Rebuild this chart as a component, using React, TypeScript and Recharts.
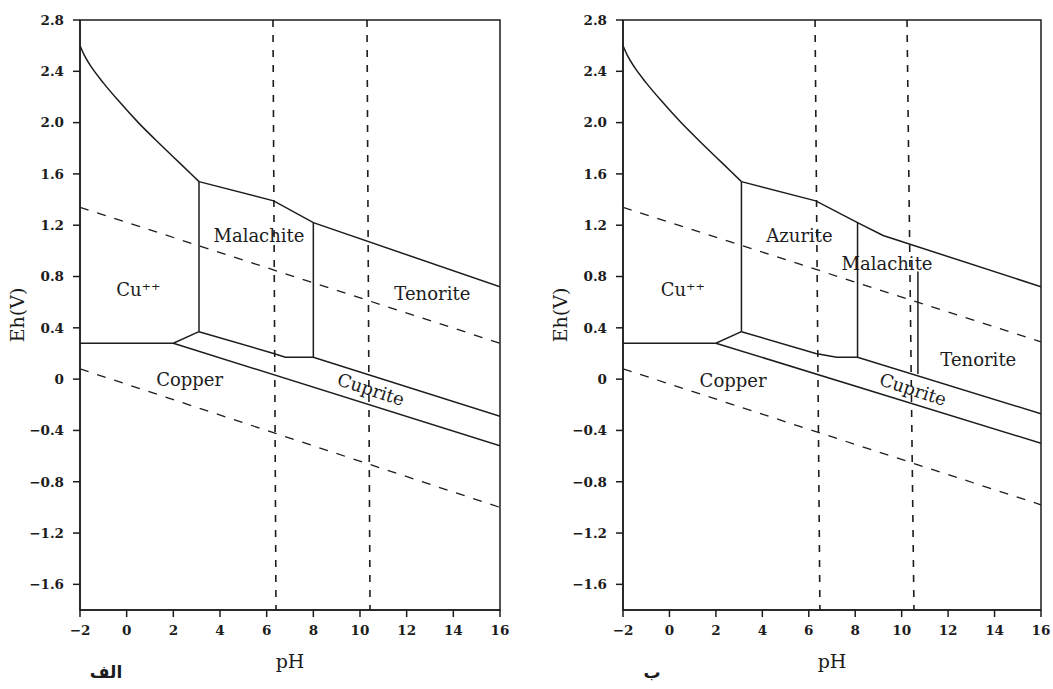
import { LineChart, Line, XAxis, YAxis, ReferenceArea, ReferenceDot, Label } from "recharts";

type Pt = { ph: number; eh: number };
const pts = (rows: number[][]): Pt[] => rows.map(([ph, eh]) => ({ ph, eh }));

const PH_TICKS = [-2, 0, 2, 4, 6, 8, 10, 12, 14, 16];
const EH_TICKS = [-1.6, -1.2, -0.8, -0.4, 0, 0.4, 0.8, 1.2, 1.6, 2.0, 2.4, 2.8];

// Cu++ upper limit (curved), same on both panels
const CU_TOP_CURVE = pts([
  [-2, 2.6], [-1.8, 2.52], [-1.5, 2.43], [-1, 2.31], [-0.3, 2.16],
  [0.5, 2.0], [1.5, 1.82], [2.3, 1.68], [3.1, 1.54],
]);
const COPPER_TOP = pts([[-2, 0.28], [2, 0.28], [3.1, 0.37]]);
const CU_CARB_SPLIT = pts([[3.1, 1.54], [3.1, 0.37]]);

// panel A (الف)
const A_TOP = pts([[3.1, 1.54], [6.3, 1.39], [8, 1.22], [16, 0.72]]);
const A_MAL_TEN = pts([[8, 1.22], [8, 0.17]]);
const A_CUPRITE_TOP = pts([[3.1, 0.37], [6.3, 0.2], [6.8, 0.17], [8, 0.17], [16, -0.29]]);
const A_CUPRITE_BOTTOM = pts([[2, 0.28], [16, -0.52]]);
const A_WATER_UP = pts([[-2, 1.34], [16, 0.28]]);
const A_WATER_DOWN = pts([[-2, 0.08], [16, -1.0]]);
const A_PH_LINE_1 = pts([[6.27, 2.8], [6.4, -1.8]]);
const A_PH_LINE_2 = pts([[10.3, 2.8], [10.43, -1.8]]);

// panel B (ب)
const B_TOP = pts([[3.1, 1.54], [6.3, 1.39], [8.1, 1.22], [9.2, 1.12], [16, 0.72]]);
const B_AZU_MAL = pts([[8.1, 1.22], [8.1, 0.17]]);
const B_MAL_TEN = pts([[10.7, 0.84], [10.7, 0.04]]);
const B_CUPRITE_TOP = pts([[3.1, 0.37], [6.3, 0.2], [7.2, 0.17], [8.1, 0.17], [16, -0.27]]);
const B_CUPRITE_BOTTOM = pts([[2, 0.28], [16, -0.5]]);
const B_WATER_UP = pts([[-2, 1.34], [16, 0.29]]);
const B_WATER_DOWN = pts([[-2, 0.08], [16, -0.98]]);
const B_PH_LINE_1 = pts([[6.27, 2.8], [6.48, -1.8]]);
const B_PH_LINE_2 = pts([[10.23, 2.8], [10.53, -1.8]]);

type Tag = { text: string; ph: number; eh: number; angle?: number };

const A_TAGS: Tag[] = [
  { text: "Malachite", ph: 5.67, eh: 1.12 },
  { text: "Cu⁺⁺", ph: 0.5, eh: 0.7 },
  { text: "Tenorite", ph: 13.1, eh: 0.67 },
  { text: "Copper", ph: 2.7, eh: 0.0 },
  { text: "Cuprite", ph: 10.47, eh: -0.08, angle: 18 },
];

const B_TAGS: Tag[] = [
  { text: "Azurite", ph: 5.6, eh: 1.12 },
  { text: "Malachite", ph: 9.37, eh: 0.9 },
  { text: "Cu⁺⁺", ph: 0.58, eh: 0.7 },
  { text: "Tenorite", ph: 13.3, eh: 0.15 },
  { text: "Copper", ph: 2.74, eh: -0.01 },
  { text: "Cuprite", ph: 10.49, eh: -0.08, angle: 18 },
];

const INK = "#1c1c1c";
const SERIF = "'DejaVu Serif', serif";

const fmtEh = (v: number) => (v === 0 ? "0" : v.toFixed(1).replace("-", "−"));
const fmtPh = (v: number) => String(v).replace("-", "−");

type PanelProps = {
  left: number;
  width: number;
  solid: Pt[][];
  dashed: Pt[][];
  vdashed: Pt[][];
  tags: Tag[];
};

function Panel({ left, width, solid, dashed, vdashed, tags }: PanelProps) {
  return (
    <div style={{ position: "absolute", left, top: 0 }}>
      <LineChart
        width={width}
        height={689}
        margin={{ top: 20, right: 20, bottom: 49, left: 0 }}
        style={{ fontFamily: SERIF }}
      >
        <XAxis
          type="number"
          dataKey="ph"
          domain={[-2, 16]}
          ticks={PH_TICKS}
          interval={0}
          allowDataOverflow
          height={30}
          tickSize={7}
          tickMargin={8}
          tickFormatter={fmtPh}
          axisLine={{ stroke: INK, strokeWidth: 1.5 }}
          tickLine={{ stroke: INK, strokeWidth: 1.5 }}
          tick={{ fill: INK, fontSize: 13.5, fontWeight: 700, fontFamily: SERIF }}
          label={
            <Label
              content={(p: any) => {
                const vb = p.viewBox;
                const cx = vb.x + vb.width / 2;
                return (
                  <text x={cx} y={vb.y + vb.height + 28} textAnchor="middle" fill={INK} fontSize={19} fontFamily={SERIF}>
                    pH
                  </text>
                );
              }}
            />
          }
        />
        <YAxis
          type="number"
          domain={[-1.8, 2.8]}
          ticks={EH_TICKS}
          interval={0}
          allowDataOverflow
          width={80}
          tickSize={7}
          tickMargin={9}
          tickFormatter={fmtEh}
          axisLine={{ stroke: INK, strokeWidth: 1.5 }}
          tickLine={{ stroke: INK, strokeWidth: 1.5 }}
          tick={{ fill: INK, fontSize: 13.5, fontWeight: 700, fontFamily: SERIF }}
          label={
            <Label
              content={(p: any) => {
                const vb = p.viewBox;
                const cx = vb.x + 17;
                const cy = vb.y + vb.height / 2;
                return (
                  <text
                    x={cx}
                    y={cy}
                    transform={`rotate(-90 ${cx} ${cy})`}
                    textAnchor="middle"
                    dominantBaseline="central"
                    fill={INK}
                    fontSize={19}
                    fontFamily={SERIF}
                  >
                    Eh(V)
                  </text>
                );
              }}
            />
          }
        />
        <ReferenceArea x1={-2} x2={16} y1={-1.8} y2={2.8} fill="none" stroke={INK} strokeWidth={1.5} />
        <Line
          data={CU_TOP_CURVE}
          dataKey="eh"
          type="monotone"
          stroke={INK}
          strokeWidth={1.5}
          dot={false}
          activeDot={false}
          isAnimationActive={false}
        />
        {solid.map((seg, i) => (
          <Line
            key={"s" + i}
            data={seg}
            dataKey="eh"
            type="linear"
            stroke={INK}
            strokeWidth={1.5}
            dot={false}
            activeDot={false}
            isAnimationActive={false}
          />
        ))}
        {dashed.map((seg, i) => (
          <Line
            key={"d" + i}
            data={seg}
            dataKey="eh"
            type="linear"
            stroke={INK}
            strokeWidth={1.3}
            strokeDasharray="9 9"
            dot={false}
            activeDot={false}
            isAnimationActive={false}
          />
        ))}
        {vdashed.map((seg, i) => (
          <Line
            key={"v" + i}
            data={seg}
            dataKey="eh"
            type="linear"
            stroke={INK}
            strokeWidth={1.6}
            strokeDasharray="7 8"
            dot={false}
            activeDot={false}
            isAnimationActive={false}
          />
        ))}
        {tags.map((t) => (
          <ReferenceDot
            key={t.text}
            x={t.ph}
            y={t.eh}
            r={0}
            fill="none"
            stroke="none"
            label={{
              value: t.text,
              position: "center",
              fill: INK,
              fontSize: 18,
              fontFamily: SERIF,
              angle: t.angle ?? 0,
            }}
          />
        ))}
      </LineChart>
    </div>
  );
}

const letterStyle = {
  position: "absolute" as const,
  top: 660,
  width: 60,
  height: 24,
  lineHeight: "24px",
  textAlign: "center" as const,
  fontFamily: "'DejaVu Sans', sans-serif",
  fontWeight: 700,
  fontSize: 17,
  color: INK,
  direction: "rtl" as const,
};

export default function App() {
  return (
    <div style={{ position: "absolute", left: 0, top: 0, width: 1053, height: 689, background: "#fff", overflow: "hidden" }}>
      <Panel
        left={0}
        width={520}
        solid={[COPPER_TOP, CU_CARB_SPLIT, A_TOP, A_MAL_TEN, A_CUPRITE_TOP, A_CUPRITE_BOTTOM]}
        dashed={[A_WATER_UP, A_WATER_DOWN]}
        vdashed={[A_PH_LINE_1, A_PH_LINE_2]}
        tags={A_TAGS}
      />
      <Panel
        left={543}
        width={518}
        solid={[COPPER_TOP, CU_CARB_SPLIT, B_TOP, B_AZU_MAL, B_MAL_TEN, B_CUPRITE_TOP, B_CUPRITE_BOTTOM]}
        dashed={[B_WATER_UP, B_WATER_DOWN]}
        vdashed={[B_PH_LINE_1, B_PH_LINE_2]}
        tags={B_TAGS}
      />
      <div style={{ ...letterStyle, left: 106 - 30 }}>الف</div>
      <div style={{ ...letterStyle, left: 652 - 30 }}>ب</div>
    </div>
  );
}
